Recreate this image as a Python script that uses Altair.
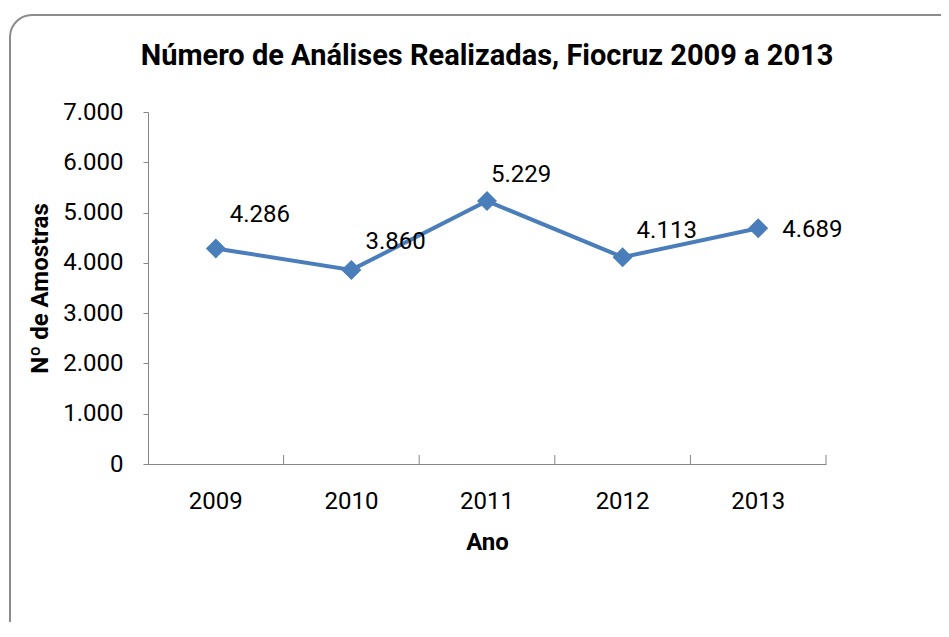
import altair as alt
import pandas as pd

years = ["2009", "2010", "2011", "2012", "2013"]
samples = [4286, 3860, 5229, 4113, 4689]
y_ticks = [0, 1000, 2000, 3000, 4000, 5000, 6000, 7000]

df = pd.DataFrame({"Ano": years, "Amostras": samples})

FONT = "Roboto"
BLUE = "#4A7EBB"
AXIS_GRAY = "#868686"

# label placement (dx, dy) per year, as in the reference
label_offsets = {
    "2009": (14, -33),
    "2010": (14, -28),
    "2011": (4, -26),
    "2012": (14, -26),
    "2013": (24, 2),
}

base = alt.Chart(df)

x_enc = alt.X(
    "Ano:N",
    sort=years,
    scale=alt.Scale(paddingInner=0, paddingOuter=0),
    axis=alt.Axis(
        title="Ano",
        labelAngle=0,
        ticks=False,
        labelPadding=25,
        labelFontSize=24,
        labelFont=FONT,
        labelColor="#000000",
        titleFont=FONT,
        titleFontSize=24,
        titleFontWeight="bold",
        titleColor="#000000",
        titlePadding=17,
        domainColor=AXIS_GRAY,
        domainWidth=1,
    ),
)
y_enc = alt.Y(
    "Amostras:Q",
    scale=alt.Scale(domain=[0, 7000], nice=False),
    axis=alt.Axis(
        title="Nº de Amostras",
        values=y_ticks,
        labelExpr="replace(format(datum.value, ','), ',', '.')",
        grid=False,
        tickSize=5,
        tickColor=AXIS_GRAY,
        domainColor=AXIS_GRAY,
        labelPadding=20,
        labelFontSize=24,
        labelFont=FONT,
        labelColor="#000000",
        titleFont=FONT,
        titleFontSize=24,
        titleFontWeight="bold",
        titleColor="#000000",
        titlePadding=10,
    ),
)

frame = base.mark_rect(
    filled=False, stroke="#8c8c8c", strokeWidth=2, cornerRadius=22
).encode(
    x=alt.value(-138), x2=alt.value(818), y=alt.value(-97), y2=alt.value(545)
).transform_filter(alt.datum.Ano == "2009")

band_ticks = base.mark_rule(color=AXIS_GRAY, strokeWidth=1).encode(
    x=alt.X("Ano:N", sort=years, bandPosition=1),
    y=alt.value(343),
    y2=alt.value(352),
)

line = base.mark_line(color=BLUE, strokeWidth=4).encode(x=x_enc, y=y_enc)
points = base.mark_point(
    shape="diamond", filled=True, color=BLUE, size=400, opacity=1
).encode(x=alt.X("Ano:N", sort=years), y="Amostras:Q")

label_expr = "replace(format(datum.Amostras, ','), ',', '.')"
label_layers = []
for yr, (ddx, ddy) in label_offsets.items():
    label_layers.append(
        base.mark_text(
            align="left", baseline="middle", dx=ddx, dy=ddy,
            fontSize=24, font=FONT, color="#000000",
        ).transform_filter(alt.datum.Ano == yr).transform_calculate(
            lab=label_expr
        ).encode(x=alt.X("Ano:N", sort=years), y="Amostras:Q", text="lab:N")
    )

chart = alt.layer(frame, line, band_ticks, points, *label_layers).properties(
    width=678,
    height=352,
    autosize=alt.AutoSizeParams(type="none"),
    padding={"left": 140, "top": 104, "right": 115, "bottom": 158},
    background="white",
    title=alt.TitleParams(
        "Número de Análises Realizadas, Fiocruz 2009 a 2013",
        font=FONT,
        fontSize=29,
        fontWeight="bold",
        color="#000000",
        anchor="middle",
        baseline="alphabetic",
        offset=-80,
    ),
).configure_view(stroke=None)

chart.save("out.html", embed_options={"renderer": "svg", "actions": False})
